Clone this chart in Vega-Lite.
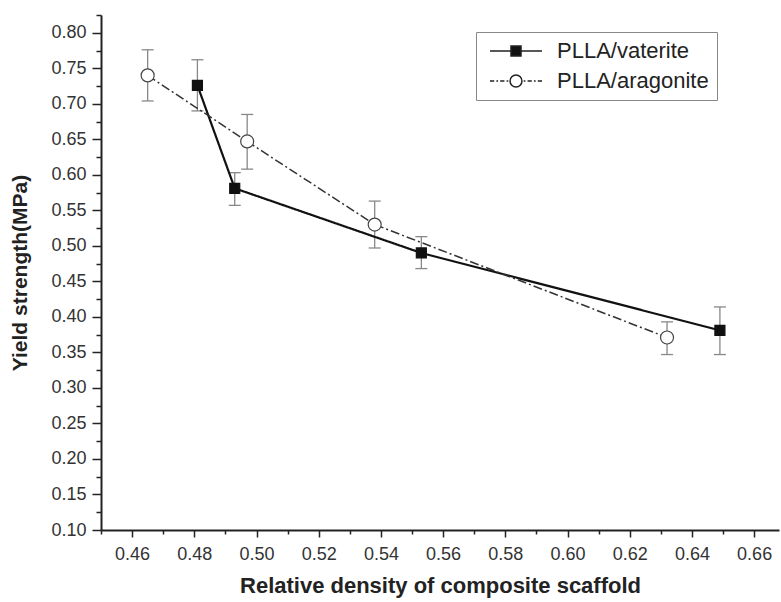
{
  "$schema": "https://vega.github.io/schema/vega-lite/v6.json",
  "width": 678,
  "height": 515,
  "autosize": "none",
  "padding": {"left": 101, "top": 15, "right": 2, "bottom": 72},
  "background": "white",
  "config": {
    "view": {"stroke": null},
    "font": "Liberation Sans",
    "axis": {
      "grid": false,
      "domainColor": "#222",
      "domainWidth": 2,
      "tickColor": "#222",
      "tickWidth": 1.5,
      "labelFont": "Liberation Sans",
      "labelFontSize": 18,
      "labelColor": "#333",
      "titleFont": "Liberation Sans",
      "titleFontSize": 21,
      "titleFontWeight": "bold",
      "titleColor": "#222"
    }
  },
  "data": {
    "values": [
      {"series": "PLLA/vaterite", "density": 0.481, "strength": 0.726, "lo": 0.690, "hi": 0.762},
      {"series": "PLLA/vaterite", "density": 0.493, "strength": 0.581, "lo": 0.557, "hi": 0.603},
      {"series": "PLLA/vaterite", "density": 0.553, "strength": 0.490, "lo": 0.468, "hi": 0.513},
      {"series": "PLLA/vaterite", "density": 0.649, "strength": 0.381, "lo": 0.347, "hi": 0.414},
      {"series": "PLLA/aragonite", "density": 0.465, "strength": 0.740, "lo": 0.704, "hi": 0.776},
      {"series": "PLLA/aragonite", "density": 0.497, "strength": 0.647, "lo": 0.608, "hi": 0.685},
      {"series": "PLLA/aragonite", "density": 0.538, "strength": 0.530, "lo": 0.497, "hi": 0.563},
      {"series": "PLLA/aragonite", "density": 0.632, "strength": 0.371, "lo": 0.347, "hi": 0.393}
    ]
  },
  "layer": [
    {
      "mark": {"type": "rule", "color": "#888", "strokeWidth": 1.3},
      "encoding": {
        "x": {
          "field": "density", "type": "quantitative",
          "scale": {"domain": [0.45, 0.668], "nice": false, "zero": false},
          "axis": {"orient": "bottom", "values": [0.45, 0.47, 0.49, 0.51, 0.53, 0.55, 0.57, 0.59, 0.61, 0.63, 0.65], "tickSize": 4, "labels": false, "title": null, "domain": false}
        },
        "y": {
          "field": "lo", "type": "quantitative",
          "scale": {"domain": [0.1, 0.825], "nice": false, "zero": false},
          "axis": {"orient": "left", "values": [0.125, 0.175, 0.225, 0.275, 0.325, 0.375, 0.425, 0.475, 0.525, 0.575, 0.625, 0.675, 0.725, 0.775, 0.825], "tickSize": 5, "labels": false, "title": null, "domain": false}
        },
        "y2": {"field": "hi"}
      }
    },
    {
      "mark": {"type": "tick", "orient": "horizontal", "color": "#888", "size": 12, "thickness": 1.3, "opacity": 1},
      "encoding": {
        "x": {"field": "density", "type": "quantitative", "axis": null},
        "y": {"field": "hi", "type": "quantitative", "axis": null}
      }
    },
    {
      "mark": {"type": "tick", "orient": "horizontal", "color": "#888", "size": 12, "thickness": 1.3, "opacity": 1},
      "encoding": {
        "x": {"field": "density", "type": "quantitative", "axis": null},
        "y": {"field": "lo", "type": "quantitative", "axis": null}
      }
    },
    {
      "mark": {"type": "line"},
      "encoding": {
        "x": {
          "field": "density", "type": "quantitative",
          "axis": {"orient": "bottom", "values": [0.46, 0.48, 0.5, 0.52, 0.54, 0.56, 0.58, 0.6, 0.62, 0.64, 0.66], "format": ".2f", "tickSize": 7, "labelPadding": 8, "title": "Relative density of composite scaffold", "titlePadding": 12, "titleFontSize": 22}
        },
        "y": {
          "field": "strength", "type": "quantitative",
          "axis": {"orient": "left", "values": [0.1, 0.15, 0.2, 0.25, 0.3, 0.35, 0.4, 0.45, 0.5, 0.55, 0.6, 0.65, 0.7, 0.75, 0.8], "format": ".2f", "tickSize": 9, "labelPadding": 6, "title": "Yield strength(MPa)", "titlePadding": 20}
        },
        "detail": {"field": "series"},
        "color": {"field": "series", "type": "nominal", "scale": {"domain": ["PLLA/aragonite", "PLLA/vaterite"], "range": ["#333", "#111"]}, "legend": null},
        "strokeDash": {"field": "series", "type": "nominal", "scale": {"domain": ["PLLA/aragonite", "PLLA/vaterite"], "range": [[9, 3, 2, 3], [1, 0]]}, "legend": null},
        "strokeWidth": {"field": "series", "type": "nominal", "scale": {"domain": ["PLLA/aragonite", "PLLA/vaterite"], "range": [1.5, 2.2]}, "legend": null}
      }
    },
    {
      "mark": {"type": "point", "filled": true, "opacity": 1, "strokeWidth": 1.2},
      "encoding": {
        "x": {"field": "density", "type": "quantitative", "axis": null},
        "y": {"field": "strength", "type": "quantitative", "axis": null},
        "fill": {
          "field": "series", "type": "nominal",
          "scale": {"domain": ["PLLA/vaterite", "PLLA/aragonite"], "range": ["#111", "#fff"]},
          "legend": {
            "title": null, "orient": "none", "legendX": 375, "legendY": 17,
            "strokeColor": "#888", "padding": 8, "rowPadding": 8,
            "labelFont": "Liberation Sans", "labelFontSize": 22, "labelColor": "#222",
            "symbolSize": 289, "symbolOffset": 21, "labelOffset": 30,
            "symbolStrokeColor": "#222", "symbolStrokeWidth": 1.5, "symbolOpacity": 1,
            "encode": {"symbols": {"update": {"shape": {"signal": "datum.value === 'PLLA/vaterite' ? 'M-3.06,0H-0.59M0.59,0H3.06M-0.59,-0.59H0.59V0.59H-0.59Z' : 'M-3.06,0H-2.56M-2.31,0H-2.11M-1.86,0H-1.36M-1.11,0H-0.91M0.91,0H1.11M1.36,0H1.86M2.11,0H2.31M2.56,0H3.06M0.7,0A0.7,0.7 0 1,1 -0.7,0A0.7,0.7 0 1,1 0.7,0Z'"}}}}
          }
        },
        "shape": {"field": "series", "type": "nominal", "scale": {"domain": ["PLLA/aragonite", "PLLA/vaterite"], "range": ["circle", "square"]}, "legend": null},
        "stroke": {"field": "series", "type": "nominal", "scale": {"domain": ["PLLA/aragonite", "PLLA/vaterite"], "range": ["#444", "#111"]}, "legend": null},
        "size": {"field": "series", "type": "nominal", "scale": {"domain": ["PLLA/aragonite", "PLLA/vaterite"], "range": [169, 100]}, "legend": null}
      }
    }
  ],
  "resolve": {"axis": {"x": "independent", "y": "independent"}}
}
